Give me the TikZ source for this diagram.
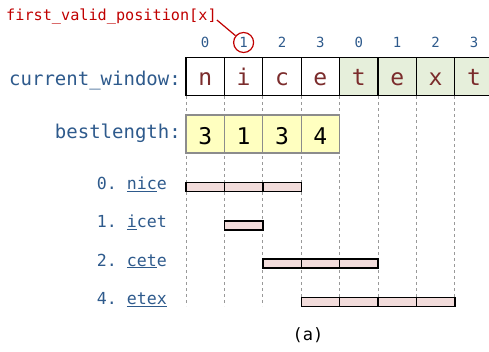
\documentclass[tikz,border=0pt]{standalone}
\usepackage{fontspec}
\setmonofont{DejaVu Sans Mono}
\definecolor{lblue}{HTML}{2E5A8C}
\definecolor{lred}{HTML}{C00000}
\definecolor{lbrown}{HTML}{7B2C2C}
\definecolor{lgreen}{HTML}{E6EFDB}
\definecolor{lyellow}{HTML}{FFFFC0}
\definecolor{lpink}{HTML}{F2DCDB}
\tikzset{
  cellbox/.style={draw=black, line width=1.3pt, minimum width=38.4pt, minimum height=38.2pt,
    inner sep=0pt, outer sep=0pt, anchor=north west, text=lbrown,
    font=\ttfamily\fontsize{23}{24}\selectfont, text height=17.4pt, text depth=0pt},
  greencell/.style={cellbox, fill=lgreen},
  bestbox/.style={draw=black!45, line width=1.3pt, fill=lyellow, minimum width=38.4pt, minimum height=38pt,
    inner sep=0pt, outer sep=0pt, anchor=north west, text=black,
    font=\ttfamily\fontsize{23}{24}\selectfont, text height=20pt, text depth=0pt},
  barbox/.style={draw=black, line width=1.4pt, fill=lpink, minimum width=38.4pt, minimum height=9pt,
    inner sep=0pt, outer sep=0pt, anchor=west},
  idxlbl/.style={text=lblue, font=\ttfamily\fontsize{14}{15}\selectfont, inner sep=0pt,
    text height=10.5pt, text depth=0pt},
  circled/.style={draw=lred, line width=1.2pt, circle, minimum size=20pt},
  biglbl/.style={text=lblue, font=\ttfamily\fontsize{19}{20}\selectfont, inner sep=0pt, anchor=base east},
  rowlbl/.style={text=lblue, font=\ttfamily\fontsize{16.6}{18}\selectfont, inner sep=0pt, anchor=base east},
  gridline/.style={draw=black!40, dashed, dash pattern=on 3pt off 3pt, line width=0.7pt},
}
\begin{document}
\begin{tikzpicture}[x=1pt,y=-1pt]
\useasboundingbox (0,0) rectangle (489,351);
\clip (0,0) rectangle (489,351);
% guide lines
\foreach \i in {0,...,7}{
  \draw[gridline] (186+38.4*\i,96) -- (186+38.4*\i,306);
}
% index row
\foreach \i/\d in {0/0,2/2,3/3,4/0,5/1,6/2,7/3}{
  \node[idxlbl] (idx\i) at (186+38.4*\i+19.2,42.5) {\d};
}
\node[idxlbl, circled] (idx1) at (186+38.4+19.2,42.5) {1};
\node[text=lred, font=\ttfamily\fontsize{15.2}{16}\selectfont, inner sep=0pt, anchor=base west]
  (fvp) at (6,20) {first\_valid\_position[x]};
\draw[lred, line width=1.2pt] (fvp.base east) -- (idx1);
% current window
\node[biglbl] (cwl) at (181,85) {current\_window:};
\foreach \i/\c in {0/n,1/i,2/c,3/e}{
  \node[cellbox] (cw\i) at (186+38.4*\i,57.5) {\c};
}
\foreach \i/\c in {4/t,5/e,6/x,7/t}{
  \node[greencell] (cw\i) at (186+38.4*\i,57.5) {\c};
}
% bestlength
\node[biglbl] (bll) at (181,138.5) {bestlength:};
\foreach \i/\v in {0/3,1/1,2/3,3/4}{
  \node[bestbox] (bl\i) at (186+38.4*\i,115) {\v};
}
% rows
\node[rowlbl] (r0) at (167,189.5) {0. \underline{nic}e};
\node[rowlbl] (r1) at (167,227.8) {1. \underline{i}cet};
\node[rowlbl] (r2) at (167,266) {2. \underline{cet}e};
\node[rowlbl] (r3) at (167,304.5) {4. \underline{etex}};
\foreach \i in {0,1,2}{ \node[barbox] (a\i) at (186+38.4*\i,187) {}; }
\node[barbox] (b1) at (186+38.4,225.3) {};
\foreach \i in {2,3,4}{ \node[barbox] (c\i) at (186+38.4*\i,263.5) {}; }
\foreach \i in {3,4,5,6}{ \node[barbox] (d\i) at (186+38.4*\i,302) {}; }
% caption
\node[font=\ttfamily\fontsize{17}{18}\selectfont, inner sep=0pt, anchor=base] (cap) at (308,340) {(a)};
\end{tikzpicture}
\end{document}
